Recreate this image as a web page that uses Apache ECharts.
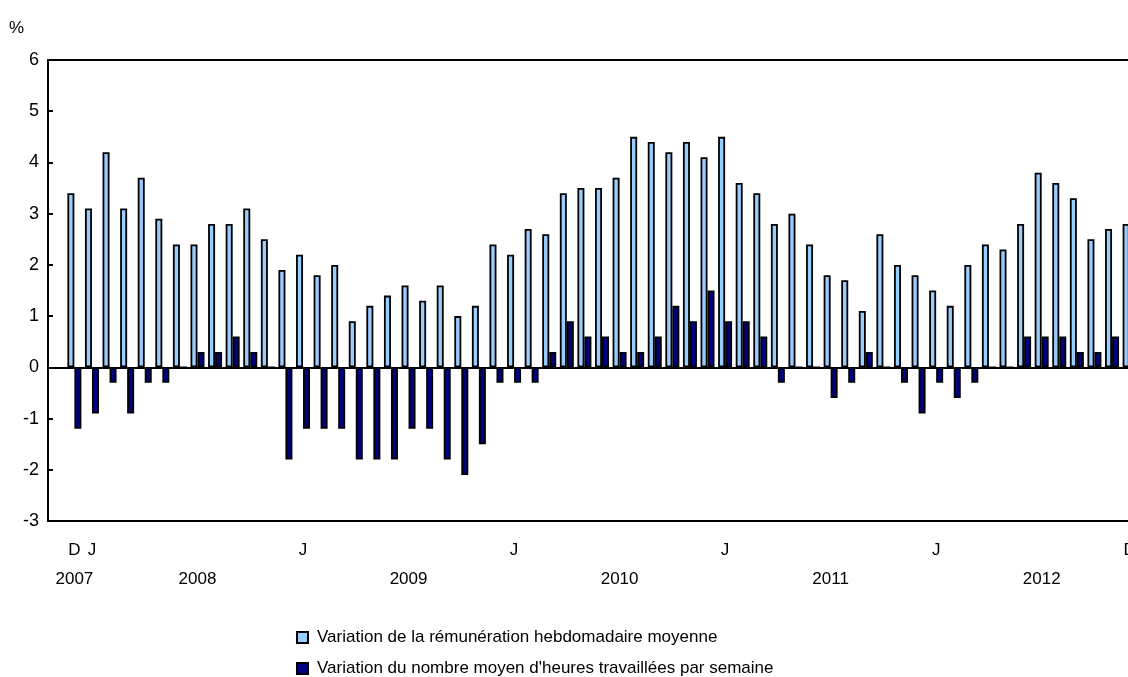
<!DOCTYPE html>
<html>
<head>
<meta charset="utf-8">
<script src="https://cdn.jsdelivr.net/npm/echarts@6/dist/echarts.min.js"></script>
<style>
html,body{margin:0;padding:0;background:#fff;overflow:hidden;}
#c{width:1128px;height:677px;}
</style>
</head>
<body>
<div id="c"></div>
<script>
// Categories: one empty slot each side, then Dec 2007 .. Dec 2012
const categories = ['2007-11',
  '2007-12',
  '2008-01','2008-02','2008-03','2008-04','2008-05','2008-06','2008-07','2008-08','2008-09','2008-10','2008-11','2008-12',
  '2009-01','2009-02','2009-03','2009-04','2009-05','2009-06','2009-07','2009-08','2009-09','2009-10','2009-11','2009-12',
  '2010-01','2010-02','2010-03','2010-04','2010-05','2010-06','2010-07','2010-08','2010-09','2010-10','2010-11','2010-12',
  '2011-01','2011-02','2011-03','2011-04','2011-05','2011-06','2011-07','2011-08','2011-09','2011-10','2011-11','2011-12',
  '2012-01','2012-02','2012-03','2012-04','2012-05','2012-06','2012-07','2012-08','2012-09','2012-10','2012-11','2012-12',
  '2013-01'];

// Tick labels (month line / year line) keyed by category
const monthTicks = {'2007-12':'D','2008-01':'J','2009-01':'J','2010-01':'J','2011-01':'J','2012-01':'J','2012-12':'D'};
const yearTicks = {'2007-12':'2007','2008-07':'2008','2009-07':'2009','2010-07':'2010','2011-07':'2011','2012-07':'2012'};

const seriesNames = ['Variation de la rémunération hebdomadaire moyenne',
                     "Variation du nombre moyen d'heures travaillées par semaine"];

// Weekly earnings change (%)
const earnings = [null,
  3.4,
  3.1,4.2,3.1,3.7,2.9,2.4,2.4,2.8,2.8,3.1,2.5,1.9,
  2.2,1.8,2.0,0.9,1.2,1.4,1.6,1.3,1.6,1.0,1.2,2.4,
  2.2,2.7,2.6,3.4,3.5,3.5,3.7,4.5,4.4,4.2,4.4,4.1,
  4.5,3.6,3.4,2.8,3.0,2.4,1.8,1.7,1.1,2.6,2.0,1.8,
  1.5,1.2,2.0,2.4,2.3,2.8,3.8,3.6,3.3,2.5,2.7,2.8,
  null];

// Average weekly hours change (%)
const hours = [null,
  -1.2,
  -0.9,-0.3,-0.9,-0.3,-0.3,0,0.3,0.3,0.6,0.3,0,-1.8,
  -1.2,-1.2,-1.2,-1.8,-1.8,-1.8,-1.2,-1.2,-1.8,-2.1,-1.5,-0.3,
  -0.3,-0.3,0.3,0.9,0.6,0.6,0.3,0.3,0.6,1.2,0.9,1.5,
  0.9,0.9,0.6,-0.3,0,0,-0.6,-0.3,0.3,0,-0.3,-0.9,
  -0.3,-0.6,-0.3,0,0,0.6,0.6,0.6,0.3,0.3,0.6,0.6,
  null];

const FONT = 'Liberation Sans, Arial, Helvetica, sans-serif';
const legendCommon = {
  orient:'horizontal', left:291,
  itemWidth:11, itemHeight:11,
  icon:'rect',
  textStyle:{fontFamily:FONT, fontSize:17, color:'#000', padding:[0,0,0,4]}
};
const chart = echarts.init(document.getElementById('c'), null, {renderer:'canvas'});
chart.setOption({
  backgroundColor:'#fff',
  animation:false,
  textStyle:{fontFamily:FONT, color:'#000'},
  grid:{left:48, top:60, height:461, width:1108, outerBoundsMode:'none', show:true, borderColor:'#000', borderWidth:2, containLabel:false},
  legend:[
    Object.assign({}, legendCommon, {top:624, data:[seriesNames[0]]}),
    Object.assign({}, legendCommon, {top:655, data:[seriesNames[1]]})
  ],
  xAxis:{
    type:'category', data:categories, boundaryGap:true,
    axisLine:{show:true, lineStyle:{color:'#000', width:2}},
    axisTick:{show:false},
    axisLabel:{
      interval:0, margin:15, fontSize:17, color:'#000', fontFamily:FONT, lineHeight:29,
      formatter:function(v){
        const m = monthTicks[v] || '';
        const y = yearTicks[v] || '';
        if(!m && !y) return '';
        return (m || ' ') + (y ? '\n' + y : '');
      }
    },
    splitLine:{show:false}
  },
  yAxis:{
    type:'value', min:-3, max:6, interval:1,
    name:'%', nameLocation:'end', nameGap:32,
    nameTextStyle:{fontFamily:FONT, fontSize:17, color:'#000', align:'right', verticalAlign:'middle', padding:[0,24,0,0]},
    axisLine:{show:true, lineStyle:{color:'#000', width:2}},
    axisTick:{show:true, inside:true, length:5, lineStyle:{color:'#000', width:2}},
    axisLabel:{fontSize:18, color:'#000', margin:9, fontFamily:FONT},
    splitLine:{show:false}
  },
  series:[
    {
      name:seriesNames[0], type:'bar', data:earnings,
      barWidth:7, barGap:'0%',
      itemStyle:{color:'#99ccff', borderColor:'#000', borderWidth:1.8}
    },
    {
      name:seriesNames[1], type:'bar', data:hours,
      barWidth:7, barGap:'0%',
      itemStyle:{color:'#000080', borderColor:'#000', borderWidth:1.8},
      markLine:{
        silent:true, symbol:'none', label:{show:false},
        lineStyle:{color:'#000', width:1.5, type:'solid'},
        data:[{yAxis:0}]
      }
    }
  ]
});
</script>
</body>
</html>
